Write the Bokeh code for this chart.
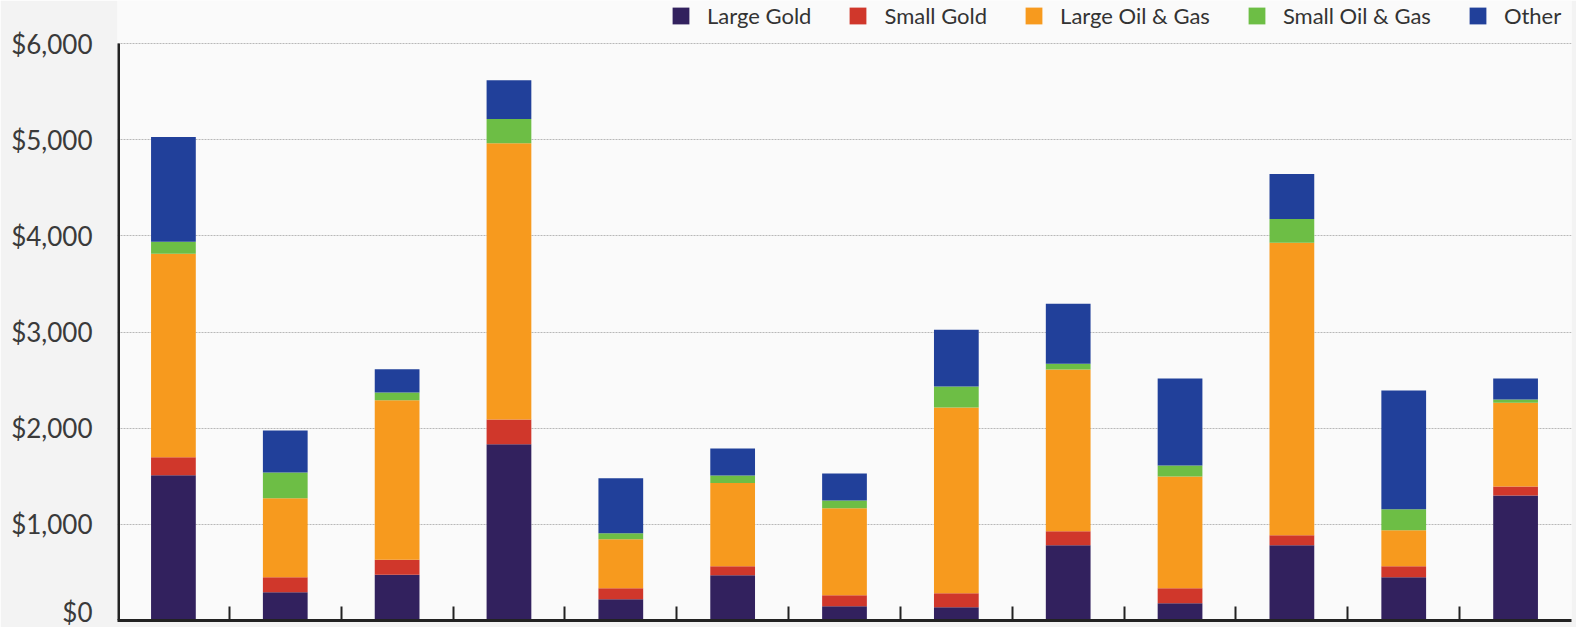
import numpy as np
from bokeh.plotting import figure
from bokeh.models import (ColumnDataSource, FixedTicker, NumeralTickFormatter,
                          Legend, LegendItem, Range1d)
from bokeh.embed import file_html
from bokeh.resources import INLINE

categories = [str(i) for i in range(1, 14)]
series = ["Large Gold", "Small Gold", "Large Oil & Gas", "Small Oil & Gas", "Other"]
large_gold = [1510, 294, 475, 1832, 221, 471, 149, 138, 782, 180, 782, 450, 1301]
small_gold = [187, 156, 158, 259, 115, 93, 114, 146, 145, 156, 104, 114, 93]
large_oil_gas = [2117, 820, 1656, 2872, 508, 865, 903, 1931, 1682, 1162, 3041, 374, 869]
small_oil_gas = [125, 270, 83, 251, 63, 80, 83, 218, 62, 114, 249, 218, 35]
other = [1090, 436, 240, 405, 571, 280, 280, 591, 623, 904, 468, 1235, 218]
y_ticks = [0, 1000, 2000, 3000, 4000, 5000, 6000]
colors = ["#32215e", "#d0372b", "#f79a1e", "#6dbe45", "#21409a"]

n = len(categories)
y_max = y_ticks[-1]
source = ColumnDataSource(dict(
    x=list(np.arange(n) + 0.5),
    lg=large_gold, sg=small_gold, log=large_oil_gas, sog=small_oil_gas, oth=other,
))

# layout constants (pixels)
W, H = 1576, 627
BOTTOM, LEFT, RIGHT = 7, 117, 5
PLOT_TOP_PX = 43          # screen y of the top gridline
frame_h = H - BOTTOM
y_end = y_max * frame_h / (frame_h - PLOT_TOP_PX)

p = figure(width=W, height=H, output_backend="svg", toolbar_location=None,
           x_range=Range1d(0, n), y_range=Range1d(0, y_end),
           min_border_left=LEFT, min_border_right=RIGHT, min_border_top=0,
           min_border_bottom=BOTTOM)
p.background_fill_color = "#fafafa"
p.border_fill_color = "#f3f3f3"
p.outline_line_color = None

renderers = p.vbar_stack(["lg", "sg", "log", "sog", "oth"], x="x", width=0.4,
                         color=colors, line_color=None, source=source)

# left axis line only up to the top tick
p.segment(x0=[0], y0=[0], x1=[0], y1=[y_max], line_color="#222222", line_width=5)

legend = Legend(items=[LegendItem(label=s, renderers=[r]) for s, r in zip(series, renderers)],
                orientation="horizontal", location=(670 - LEFT, frame_h - 29))
legend.glyph_width = 21
legend.glyph_height = 21
legend.label_height = 21
legend.label_standoff = 16
legend.spacing = 36
legend.padding = 0
legend.margin = 0
legend.border_line_color = None
legend.background_fill_alpha = 0
legend.label_text_font = "Lato"
legend.label_text_font_size = "22px"
legend.label_text_color = "#333333"
p.add_layout(legend)

# grid
p.xgrid.grid_line_color = None
p.ygrid.ticker = FixedTicker(ticks=y_ticks)
p.ygrid.grid_line_color = "#b8b8b8"
p.ygrid.grid_line_dash = "2 1"
p.ygrid.grid_line_width = 1

# y axis
p.yaxis.ticker = FixedTicker(ticks=y_ticks)
p.yaxis.formatter = NumeralTickFormatter(format="$0,0")
p.yaxis.major_label_text_font = "Lato"
p.yaxis.major_label_text_font_size = "26px"
p.yaxis.major_label_text_color = "#3a3a3a"
p.yaxis.major_tick_line_color = None
p.yaxis.minor_tick_line_color = None
p.yaxis.axis_line_color = None
p.yaxis.major_label_standoff = 19

# x axis
p.xaxis.ticker = FixedTicker(ticks=list(range(1, n)))
p.xaxis.major_label_text_font_size = "0px"
p.xaxis.major_label_text_color = None
p.xaxis.major_tick_in = 14
p.xaxis.major_tick_out = 0
p.xaxis.major_tick_line_width = 2
p.xaxis.major_tick_line_color = "#222222"
p.xaxis.minor_tick_line_color = None
p.xaxis.axis_line_color = "#222222"
p.xaxis.axis_line_width = 3
p.xaxis.major_label_standoff = 0

open("out.html", "w").write(file_html(p, INLINE))
